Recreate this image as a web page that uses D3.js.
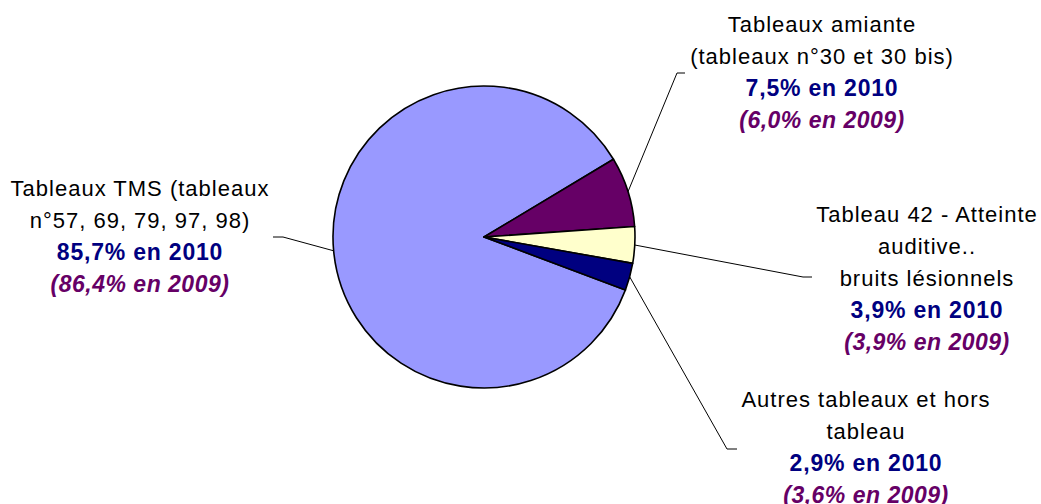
<!DOCTYPE html>
<html>
<head>
<meta charset="utf-8">
<script src="https://cdn.jsdelivr.net/npm/d3@7"></script>
<style>
  html, body { margin: 0; padding: 0; background: #fff; }
  svg { display: block; }
  text { font-family: "Liberation Sans", Arial, sans-serif; }
</style>
</head>
<body>
<svg id="chart" width="1041" height="504"></svg>
<script>
// ---- Data ----
const categories = [
  ["Tableaux TMS (tableaux", "n°57, 69, 79, 97, 98)"],
  ["Tableaux amiante", "(tableaux n°30 et 30 bis)"],
  ["Tableau 42 - Atteinte", "auditive..", "bruits lésionnels"],
  ["Autres tableaux et hors", "tableau"]
];
const values2010 = [85.7, 7.5, 3.9, 2.9];
const values2009 = [86.4, 6.0, 3.9, 3.6];
const colors = ["#9999FF", "#660066", "#FFFFCC", "#000080"];

// ---- Layout ----
const cx = 484, cy = 237, radius = 151;
const startDeg = 110.5;
const labelPos = [
  { x: 140, y: 196 },
  { x: 822, y: 32 },
  { x: 927, y: 222 },
  { x: 866, y: 407 }
];
// elbow points of leader lines: [elbow, end]
const leaderPts = [
  [[283, 237], [273, 237]],
  [[677, 73], [685, 73]],
  [[803, 277], [812, 277]],
  [[727, 449], [737, 449]]
];
const lineH = 32;

const svg = d3.select("#chart");
const g = svg.append("g").attr("transform", `translate(${cx},${cy})`);

const pie = d3.pie().sort(null).value(d => d)
  .startAngle(startDeg * Math.PI / 180)
  .endAngle(startDeg * Math.PI / 180 + 2 * Math.PI);
const arcs = pie(values2010);
const arc = d3.arc().innerRadius(0).outerRadius(radius);

g.selectAll("path.slice").data(arcs).join("path")
  .attr("class", "slice")
  .attr("d", arc)
  .attr("fill", (d, i) => colors[i])
  .attr("stroke", "#000")
  .attr("stroke-width", 1.6)
  .attr("stroke-linejoin", "round");

// leader lines
arcs.forEach((a, i) => {
  const mid = (a.startAngle + a.endAngle) / 2;
  const px = cx + radius * Math.sin(mid);
  const py = cy - radius * Math.cos(mid);
  const pts = [[px, py], ...leaderPts[i]];
  svg.append("path")
    .attr("d", d3.line()(pts))
    .attr("fill", "none")
    .attr("stroke", "#000")
    .attr("stroke-width", 1);
});

const fmt = v => v.toFixed(1).replace(".", ",");

categories.forEach((lines, i) => {
  const t = svg.append("text")
    .attr("text-anchor", "middle")
    .attr("x", labelPos[i].x)
    .attr("y", labelPos[i].y);
  lines.forEach((ln, k) => {
    t.append("tspan")
      .attr("x", labelPos[i].x)
      .attr("dy", k === 0 ? 0 : lineH)
      .attr("font-size", 22)
      .attr("letter-spacing", 1)
      .attr("fill", "#000")
      .text(ln);
  });
  t.append("tspan")
    .attr("x", labelPos[i].x)
    .attr("dy", lineH)
    .attr("font-size", 23)
    .attr("font-weight", "bold")
    .attr("letter-spacing", 0.8)
    .attr("fill", "#000080")
    .text(`${fmt(values2010[i])}% en 2010`);
  t.append("tspan")
    .attr("x", labelPos[i].x)
    .attr("dy", lineH)
    .attr("font-size", 23)
    .attr("font-weight", "bold")
    .attr("font-style", "italic")
    .attr("letter-spacing", 0.5)
    .attr("fill", "#660066")
    .text(`(${fmt(values2009[i])}% en 2009)`);
});
</script>
</body>
</html>
